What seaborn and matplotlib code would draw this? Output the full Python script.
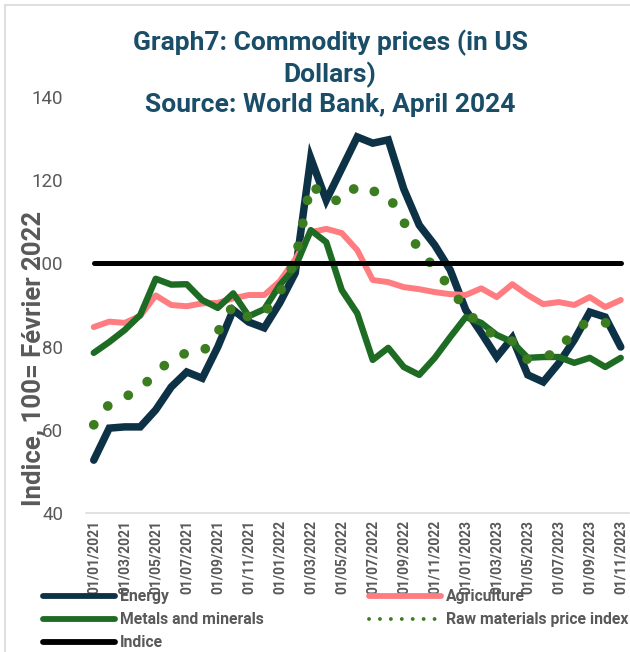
import pandas as pd
import numpy as np
import matplotlib.pyplot as plt
import seaborn as sns
from matplotlib.lines import Line2D

sns.set_style("white")
plt.rcParams['font.family'] = ['Roboto', 'DejaVu Sans']

# ================================
# Data (monthly Jan 2021 - Nov 2023)
# ================================
months = pd.date_range("2021-01-01", periods=35, freq="MS")
month_labels = [d.strftime("%d/%m/%Y") for d in months]

energy = [52.7, 60.4, 60.7, 60.7, 64.8, 70.3, 73.9, 72.4, 79.9, 88.8,
          85.9, 84.5, 90.5, 97.7, 125.3, 115.2, 122.8, 130.4, 128.9, 129.7,
          117.9, 109.2, 104.4, 98.4, 88.8, 83.3, 77.5, 82.1, 73.2, 71.5,
          76.0, 81.6, 88.3, 87.1, 79.9]
agriculture = [84.7, 86.0, 85.7, 87.4, 92.3, 90.0, 89.7, 90.4, 90.5, 91.6,
               92.4, 92.4, 95.7, 101.0, 107.5, 108.3, 107.3, 103.2, 96.0, 95.5,
               94.3, 93.8, 93.1, 92.6, 92.4, 94.0, 91.9, 95.0, 92.4, 90.2,
               90.7, 90.0, 91.9, 89.5, 91.2]
metals = [78.5, 81.1, 84.0, 87.6, 96.3, 94.9, 95.0, 91.2, 89.3, 92.8,
          87.3, 89.0, 94.8, 99.1, 108.0, 105.1, 93.6, 88.0, 76.8, 79.7,
          75.1, 73.2, 77.3, 82.3, 87.1, 85.7, 82.8, 81.1, 77.3, 77.5,
          77.5, 76.1, 77.3, 75.1, 77.3]
raw_materials = [61.2, 66.2, 67.8, 70.0, 73.5, 77.0, 78.5, 78.5, 83.5, 90.0,
                 87.0, 88.0, 93.0, 100.8, 119.0, 115.8, 114.8, 118.8, 117.4, 116.4,
                 110.0, 103.0, 99.0, 94.0, 89.0, 84.5, 82.5, 81.3, 76.8, 77.3,
                 79.0, 84.0, 86.2, 85.8, 81.8]
indice = [100] * 35

df = pd.DataFrame({
    'idx': np.arange(len(months)),
    'Energy': energy,
    'Agriculture': agriculture,
    'Metals and minerals': metals,
    'Raw materials price index': raw_materials,
    'Indice': indice,
})

# ================================
# Plot
# ================================
fig = plt.figure(figsize=(6.3, 6.52), dpi=100)
ax = fig.add_axes([86 / 630, 139 / 652, 542.5 / 630, 416 / 652])

gray_txt = '#595959'

sns.lineplot(data=df, x='idx', y='Energy', color='#0E3245', lw=5.4,
             label='Energy', ax=ax, solid_capstyle='round', solid_joinstyle='miter')
sns.lineplot(data=df, x='idx', y='Agriculture', color='#FF7C80', lw=4.3,
             label='Agriculture', ax=ax, solid_capstyle='round')
sns.lineplot(data=df, x='idx', y='Metals and minerals', color='#1E6B24', lw=4.6,
             label='Metals and minerals', ax=ax, solid_capstyle='round')
sns.lineplot(data=df, x='idx', y='Raw materials price index', color='#3D7D22', lw=7,
             label='Raw materials price index', ax=ax,
             linestyle=(0, (0.01, 2.4)), dash_capstyle='round')
sns.lineplot(data=df, x='idx', y='Indice', color='black', lw=3.6,
             label='Indice', ax=ax, solid_capstyle='round')

ax.set_xlim(-0.5, 34.5)
ax.set_ylim(40, 140)
ax.set_xlabel('')
ax.set_ylabel('')

ax.set_yticks([40, 60, 80, 100, 120, 140])
ax.tick_params(axis='y', length=0, pad=16.5, labelsize=13.5, labelcolor=gray_txt)

ax.set_xticks(df['idx'][::2])
ax.set_xticklabels(month_labels[::2], rotation=90, fontweight='bold')
ax.set_xticks(np.arange(-0.5, 34, 2), minor=True)
ax.tick_params(axis='x', which='major', length=0, pad=5, labelsize=10, labelcolor=gray_txt)
ax.tick_params(axis='x', which='minor', length=4, width=1.1, color='#D9D9D9', direction='out')

for s in ['left', 'right', 'top']:
    ax.spines[s].set_visible(False)
ax.spines['bottom'].set_color('#D9D9D9')
ax.spines['bottom'].set_linewidth(1.1)

# title
fig.text(0.524, 1 - 30 / 652,
         "Graph7: Commodity prices (in US\nDollars)\nSource: World Bank, April 2024",
         ha='center', va='top', fontsize=19, fontweight='bold', color='#1A4D68',
         linespacing=1.26)

# y label
fig.text(33 / 630, 1 - 358 / 652, "Indice, 100= Février 2022", rotation=90,
         ha='center', va='center', fontsize=18.5, fontweight='bold', color=gray_txt)

# legend (Excel order, two columns)
h, l = ax.get_legend_handles_labels()
order = [0, 2, 4, 1, 3]
ax.get_legend().remove()
leg = fig.legend([h[i] for i in order], [l[i] for i in order], ncol=2,
                 loc='upper left', bbox_to_anchor=(43 / 630, 1 - 589 / 652),
                 frameon=False, borderpad=0, borderaxespad=0,
                 handlelength=4.6, handletextpad=0.3, columnspacing=6.7,
                 labelspacing=0.52, prop={'weight': 'bold', 'size': 11.3})
for t in leg.get_texts():
    t.set_color(gray_txt)
for ln in leg.get_lines():
    ln.set_linewidth(4.2)
    ln.set_solid_capstyle('round')
raw_leg = leg.get_lines()[4]
raw_leg.set_linewidth(2.8)
raw_leg.set_linestyle((0, (0.01, 2.8)))
raw_leg.set_dash_capstyle('round')

# chart area border (top and left visible)
fig.add_artist(Line2D([5 / 630, 5 / 630], [0, 1 - 5 / 652], color='#D9D9D9', lw=1.2))
fig.add_artist(Line2D([5 / 630, 1], [1 - 5 / 652, 1 - 5 / 652], color='#D9D9D9', lw=1.2))

plt.savefig("out.png", dpi=100)
